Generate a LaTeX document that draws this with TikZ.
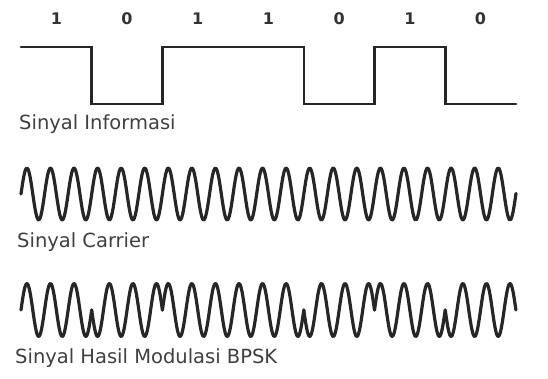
\documentclass[tikz,border=0pt]{standalone}
\usepackage{fontspec}
\setmainfont{DejaVu Sans}
\usepackage{tikz}

\begin{document}
\begin{tikzpicture}[x=1pt, y=-1pt,
    wave/.style={line width=2.6pt, black!85, line cap=round, line join=miter},
    sig/.style={line width=3.2pt, black!85, line cap=round, line join=round},
    bit/.style={font=\fontsize{16}{18}\selectfont\bfseries, text=black!80, inner sep=0pt},
    caption/.style={font=\fontsize{19.5}{22}\selectfont, text=black!75, anchor=base west, inner sep=0pt}]
  \useasboundingbox[fill=white] (0,0) rectangle (548,378);

  % Information bits
  \foreach \b [count=\i from 0] in {1,0,1,1,0,1,0}
    \node[bit] (bit\i) at ({21+(\i+0.5)*70.7},19) {\b};

  % Information signal
  \draw[wave] (21,47) -- (91.7,47) -- (91.7,104) -- (162.4,104) -- (162.4,47)
    -- (303.8,47) -- (303.8,104) -- (374.5,104) -- (374.5,47) -- (445.2,47)
    -- (445.2,104) -- (516,104);
  \node[caption] (info) at (19,129) {Sinyal Informasi};

  % Carrier (3 cycles per bit)
  \draw[sig] plot[domain=21:516, samples=500] (\x,{194-26*sin(15.2757*(\x-21))});
  \node[caption] (carrier) at (17,247) {Sinyal Carrier};

  % BPSK signal
  \foreach \b [count=\i from 0] in {1,0,1,1,0,1,0} {
    \pgfmathsetmacro\xa{21+\i*70.7}
    \pgfmathsetmacro\xb{21+(\i+1)*70.7}
    \pgfmathsetmacro\s{2*\b-1}
    \draw[sig] plot[domain=\xa:\xb, samples=80] (\x,{310-26.5*\s*sin(15.2757*(\x-21))});
  }
  \node[caption] (bpsk) at (15,363) {Sinyal Hasil Modulasi BPSK};
\end{tikzpicture}
\end{document}
